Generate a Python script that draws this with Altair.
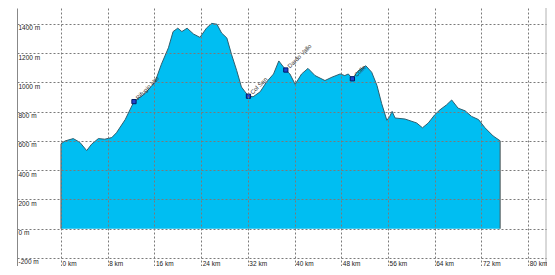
import altair as alt
import pandas as pd

km = [0, 0.7, 2.1, 3.25, 4.4, 5.25, 6.4, 7.5, 8.7, 9.5, 11, 12.5, 14.4, 16.1, 17.2, 18.4, 19.2, 20.0, 20.7, 21.6,
      22.7, 23.8, 24.9, 25.8, 26.7, 27.5, 28.4, 29.2, 30.1, 30.9, 32.1, 32.9, 34.1, 35.2, 36.4, 37.3, 38.5, 39.2, 40.1, 41.2,
      42.3, 43.5, 45.2, 46.4, 47.8, 48.6, 49.2, 49.9, 50.9, 52.2, 53.2, 54.1, 54.9, 55.8, 56.3, 56.7, 57.2, 58.9, 60.9, 61.9,
      62.9, 64.0, 64.9, 66.0, 66.9, 68.0, 69.2, 70.3, 71.5, 72.6, 74.0, 75.2]
elev = [580, 600, 616, 590, 534, 578, 616, 612, 623, 656, 746, 869, 924, 1003, 1125, 1237, 1348, 1371, 1348, 1371,
        1331, 1308, 1371, 1404, 1398, 1338, 1304, 1192, 1080, 969, 906, 902, 936, 1003, 1058, 1147, 1085, 1058, 987, 1058,
        1096, 1047, 1013, 1036, 1058, 1047, 1058, 1025, 1080, 1114, 1070, 980, 857, 741, 768, 802, 757, 750, 723, 690,
        723, 779, 813, 846, 880, 824, 806, 768, 746, 690, 634, 601]

wp_km = [12.5, 32.1, 38.5, 49.9]
wp_elev = [869, 906, 1085, 1025]
wp_names = ["Rifugio alto", "Col San", "Dardo Vallo", "Colle"]

x_ticks = [0, 8, 16, 24, 32, 40, 48, 56, 64, 72, 80]
y_ticks = [-200, 0, 200, 400, 600, 800, 1000, 1200, 1400]

df = pd.DataFrame({"km": km, "elev": elev})
edges = pd.DataFrame({"km": [km[0], km[-1]], "elev": [elev[0], elev[-1]], "zero": [0, 0]})
wp = pd.DataFrame({"km": wp_km, "elev": wp_elev, "name": wp_names})

FONT = "Liberation Sans"
W, H = 529, 258

xs = alt.Scale(domain=[-7.53, 83.05], nice=False, zero=False)
ys = alt.Scale(domain=[-255, 1509], nice=False, zero=False)

common = dict(ticks=False, grid=True, gridDash=[2, 2], gridColor="#7a7a7a", gridOpacity=1, labelColor="#222",
              labelFont=FONT, labelFontSize=6.5, title=None, zindex=1, labelFlush=False, labelOverlap=False,
              tickCount=30)

xaxis = alt.Axis(values=x_ticks, labelExpr="datum.value + ' km'", labelAlign="left", labelBaseline="bottom",
                 labelPadding=0, labelOffset=1, domain=False, **common)
yaxis = alt.Axis(values=y_ticks, labelExpr="datum.value + ' m'", labelAlign="left", labelBaseline="top",
                 labelPadding=-1, labelOffset=1, domain=True, domainColor="#888", **common)

area = alt.Chart(df).mark_area(color="#00BEF2", opacity=1, line={"color": "#2F5F6F", "strokeWidth": 1},
                               clip=True).encode(
    x=alt.X("km:Q", scale=xs, axis=xaxis),
    y=alt.Y("elev:Q", scale=ys, axis=yaxis),
)

edge_rules = alt.Chart(edges).mark_rule(color="#555", strokeWidth=1).encode(
    x=alt.X("km:Q", scale=xs, axis=xaxis),
    y=alt.Y("zero:Q", scale=ys, axis=yaxis),
    y2="elev:Q",
)

markers = alt.Chart(wp).mark_square(size=18, filled=True, color="#2244cc", stroke="#001a66", strokeWidth=1,
                                    opacity=1).encode(
    x=alt.X("km:Q", scale=xs, axis=xaxis),
    y=alt.Y("elev:Q", scale=ys, axis=yaxis),
)

labels = alt.Chart(wp).mark_text(angle=315, align="left", baseline="middle", dx=4, dy=0, fontSize=6,
                                 color="#333", font=FONT).encode(
    x=alt.X("km:Q", scale=xs, axis=xaxis),
    y=alt.Y("elev:Q", scale=ys, axis=yaxis),
    text="name:N",
)

right_border = alt.Chart(edges).mark_rule(color="#ccc").encode(
    x=alt.value(W), y=alt.value(0), y2=alt.value(H)
)

chart = alt.layer(area, edge_rules, markers, labels, right_border).properties(
    width=W, height=H, padding={"left": 9, "top": 0, "right": 1, "bottom": 0},
    autosize=alt.AutoSizeParams(type="none"), background="white",
).configure_view(stroke=None)

chart.save("out.html", embed_options={"renderer": "svg", "actions": False})
